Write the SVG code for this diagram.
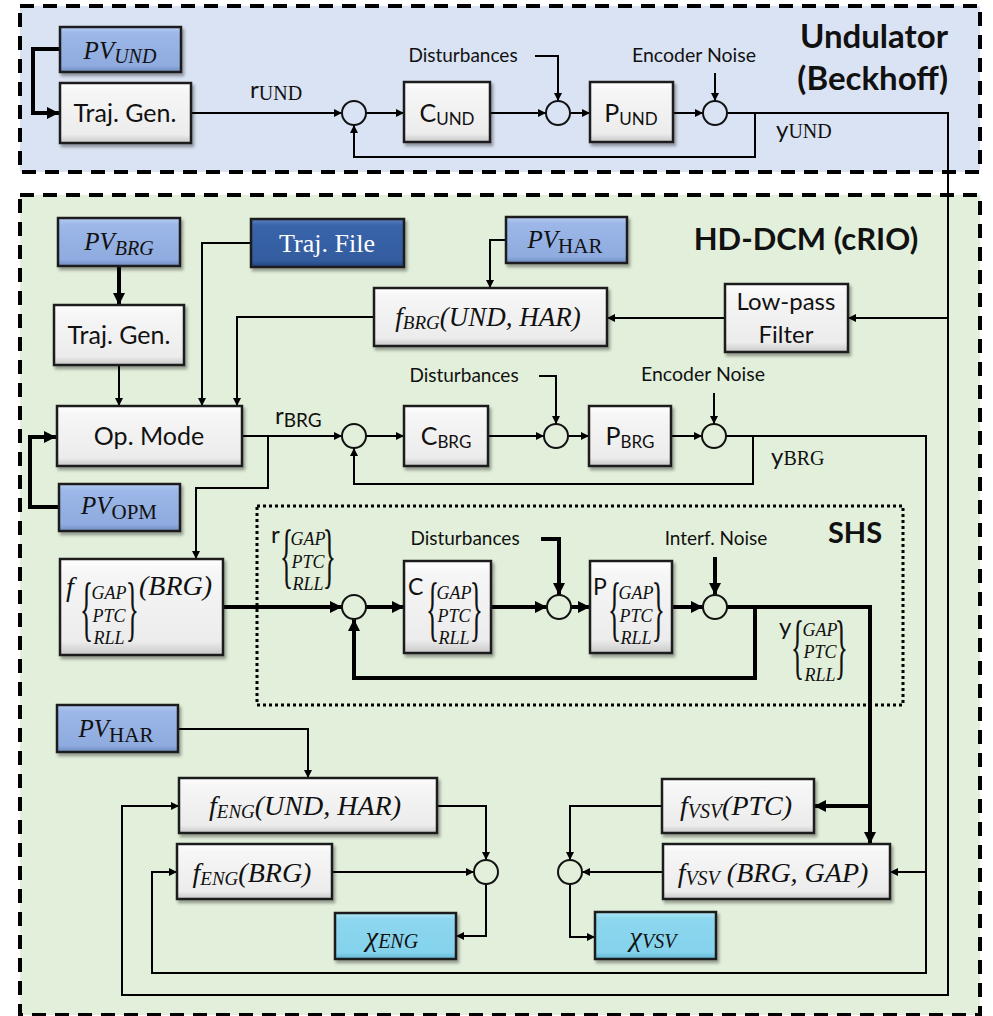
<svg xmlns="http://www.w3.org/2000/svg" width="993" height="1016" viewBox="0 0 993 1016">
<defs>
  <linearGradient id="gGrey" x1="0" y1="0" x2="0" y2="1">
    <stop offset="0" stop-color="#ffffff"/><stop offset="0.14" stop-color="#f6f6f6"/><stop offset="0.86" stop-color="#ececec"/><stop offset="1" stop-color="#c8c8c8"/>
  </linearGradient>
  <linearGradient id="gBlue" x1="0" y1="0" x2="0" y2="1">
    <stop offset="0" stop-color="#b7cdf3"/><stop offset="0.14" stop-color="#9cb7e8"/><stop offset="0.86" stop-color="#8fabdf"/><stop offset="1" stop-color="#6f8cc2"/>
  </linearGradient>
  <linearGradient id="gDark" x1="0" y1="0" x2="0" y2="1">
    <stop offset="0" stop-color="#5a7fc0"/><stop offset="0.14" stop-color="#3a64aa"/><stop offset="0.86" stop-color="#335c9f"/><stop offset="1" stop-color="#22457f"/>
  </linearGradient>
  <linearGradient id="gCyan" x1="0" y1="0" x2="0" y2="1">
    <stop offset="0" stop-color="#b3e8f7"/><stop offset="0.14" stop-color="#8dd7ef"/><stop offset="0.86" stop-color="#84d2ec"/><stop offset="1" stop-color="#62b6d4"/>
  </linearGradient>
  <filter id="sh" x="-5%" y="-5%" width="120%" height="130%">
    <feDropShadow dx="2" dy="3" stdDeviation="1.5" flood-color="#000" flood-opacity="0.35"/>
  </filter>
  <marker id="a" viewBox="0 0 10 10" refX="10" refY="5" markerWidth="9" markerHeight="8" markerUnits="userSpaceOnUse" orient="auto">
    <path d="M0,0 L10,5 L0,10 z" fill="#000"/>
  </marker>
  <marker id="A" viewBox="0 0 10 10" refX="10" refY="5" markerWidth="13" markerHeight="12" markerUnits="userSpaceOnUse" orient="auto">
    <path d="M0,0 L10,5 L0,10 z" fill="#000"/>
  </marker>
</defs>
<style>
  .box{stroke:#1a1a1a;stroke-width:2.5;filter:url(#sh)}
  .grey{fill:url(#gGrey)}
  .blue{fill:url(#gBlue)}
  .dblue{fill:url(#gDark)}
  .cyan{fill:url(#gCyan)}
  .sum{fill:none;stroke:#111;stroke-width:2}
  .ln{fill:none;stroke:#000;stroke-width:2}
  .thk{fill:none;stroke:#000;stroke-width:4}
  .arr{marker-end:url(#a)}
  .Arr{marker-end:url(#A)}
  .s{font-family:Lato,"Liberation Sans",sans-serif;fill:#111}
  .m{font-family:"Liberation Serif",serif;font-style:italic;fill:#111}
  .u{font-family:"Liberation Serif",serif;font-style:normal}
  .b{font-family:Lato,"Liberation Sans",sans-serif;font-weight:bold;fill:#111}
  .stk{font-family:"Liberation Serif",serif;font-style:italic;font-size:18px;fill:#111;text-anchor:middle}
  .br{font-family:"Liberation Serif",serif;font-style:normal;fill:#111}
</style>

<g id="panels">
  <rect x="20" y="6" width="960" height="166" fill="#dae3f3" stroke="#000" stroke-width="4" stroke-dasharray="14 9"/>
  <rect x="20" y="195" width="960" height="820" fill="#e2efda" stroke="#000" stroke-width="4" stroke-dasharray="14 9"/>
  <rect id="shs" x="257" y="506" width="646" height="199" fill="none" stroke="#000" stroke-width="3" stroke-dasharray="3 3"/>
</g>

<g id="connectors">
  <path class="thk Arr" d="M60,49 H33 V113 H59"/>
  <path class="ln arr" d="M191,113 H342"/>
  <path class="ln arr" d="M366,113 H404"/>
  <path class="ln arr" d="M490,113 H546"/>
  <path class="ln arr" d="M535,56 H558 V101"/>
  <path class="ln arr" d="M570,113 H590"/>
  <path class="ln arr" d="M673,113 H703"/>
  <path class="ln arr" d="M715,73 V101"/>
  <path class="ln arr" d="M727,113 H948 V995 H122 V806 H179"/>
  <path class="ln arr" d="M948,318 H848"/>
  <path class="ln arr" d="M755,113 V157 H354 V125"/>
  <path class="thk Arr" d="M119,266 V305"/>
  <path class="ln arr" d="M119,365 V406"/>
  <path class="ln arr" d="M251,243 H202 V406"/>
  <path class="ln arr" d="M374,317 H237 V406"/>
  <path class="ln arr" d="M506,240 H490 V288"/>
  <path class="ln arr" d="M725,318 H607"/>
  <path class="thk Arr" d="M59,507 H30 V437 H56"/>
  <path class="ln arr" d="M242,436 H342"/>
  <path class="ln arr" d="M268,436 V488 H196 V559"/>
  <path class="ln arr" d="M366,436 H404"/>
  <path class="ln arr" d="M488,436 H544"/>
  <path class="ln arr" d="M539,376 H556 V424"/>
  <path class="ln arr" d="M568,436 H589"/>
  <path class="ln arr" d="M671,436 H702"/>
  <path class="ln arr" d="M714,393 V424"/>
  <path class="ln arr" d="M726,436 H926 V973 H152 V872 H177"/>
  <path class="ln arr" d="M926,872 H890"/>
  <path class="ln arr" d="M753,436 V484 H354 V448"/>
  <path class="thk Arr" d="M223,607 H342"/>
  <path class="thk Arr" d="M366,607 H404"/>
  <path class="thk Arr" d="M491,607 H547"/>
  <path class="thk Arr" d="M541,539 H559 V595"/>
  <path class="thk Arr" d="M571,607 H590"/>
  <path class="thk Arr" d="M672,607 H703"/>
  <path class="thk Arr" d="M715,557 V595"/>
  <path class="thk Arr" d="M727,607 H870 V844"/>
  <path class="thk Arr" d="M870,806 H814"/>
  <path class="thk Arr" d="M755,607 V678 H354 V619"/>
  <path class="ln arr" d="M178,729 H308 V778"/>
  <path class="ln arr" d="M437,806 H486 V860"/>
  <path class="ln arr" d="M332,872 H474"/>
  <path class="ln arr" d="M486,884 V936 H456"/>
  <path class="ln arr" d="M662,806 H570 V860"/>
  <path class="ln arr" d="M663,872 H582"/>
  <path class="ln arr" d="M570,884 V937 H595"/>
</g>

<g id="pv-und"><rect class="box blue" x="60" y="27" width="121" height="45"/>
  <text class="m" x="120" y="59" text-anchor="middle" font-size="25">PV<tspan font-size="20" dy="4">UND</tspan></text></g>
<g id="tg-und"><rect class="box grey" x="60" y="83" width="131" height="60"/>
  <text class="s" x="125" y="122" text-anchor="middle" font-size="25">Traj. Gen.</text></g>
<g id="sum-und1"><circle class="sum" cx="354" cy="113" r="12"/></g>
<g id="c-und"><rect class="box grey" x="404" y="82" width="86" height="60"/>
  <text class="s" x="447" y="122" text-anchor="middle" font-size="25">C<tspan font-size="17" dy="3">UND</tspan></text></g>
<g id="sum-und2"><circle class="sum" cx="558" cy="113" r="12"/></g>
<g id="p-und"><rect class="box grey" x="590" y="82" width="83" height="60"/>
  <text class="s" x="631" y="122" text-anchor="middle" font-size="25">P<tspan font-size="17" dy="3">UND</tspan></text></g>
<g id="sum-und3"><circle class="sum" cx="715" cy="113" r="12"/></g>

<g id="pv-brg"><rect class="box blue" x="58" y="218" width="122" height="48"/>
  <text class="m" x="119" y="250" text-anchor="middle" font-size="25">PV<tspan font-size="20" dy="5">BRG</tspan></text></g>
<g id="traj-file"><rect class="box dblue" x="251" y="219" width="153" height="48"/>
  <text x="327" y="252" text-anchor="middle" font-size="26" font-family="'Liberation Serif', serif" fill="#fff">Traj. File</text></g>
<g id="pv-har1"><rect class="box blue" x="506" y="217" width="121" height="46"/>
  <text class="m" x="565" y="248" text-anchor="middle" font-size="25">PV<tspan class="u" font-size="21" dy="5">HAR</tspan></text></g>
<g id="tg-brg"><rect class="box grey" x="54" y="305" width="130" height="60"/>
  <text class="s" x="119" y="344" text-anchor="middle" font-size="25">Traj. Gen.</text></g>
<g id="f-brg"><rect class="box grey" x="374" y="288" width="233" height="58"/>
  <text class="m" x="488" y="326" text-anchor="middle" font-size="27">f<tspan font-size="19" dy="3">BRG</tspan><tspan dy="-3">(UND, HAR)</tspan></text></g>
<g id="lpf"><rect class="box grey" x="725" y="284" width="123" height="68"/>
  <text class="s" x="786" y="310" text-anchor="middle" font-size="24">Low-pass</text>
  <text class="s" x="786" y="343" text-anchor="middle" font-size="24">Filter</text></g>
<g id="op-mode"><rect class="box grey" x="57" y="406" width="185" height="60"/>
  <text class="s" x="149" y="445" text-anchor="middle" font-size="25">Op. Mode</text></g>
<g id="pv-opm"><rect class="box blue" x="59" y="484" width="121" height="47"/>
  <text class="m" x="119" y="514" text-anchor="middle" font-size="25">PV<tspan class="u" font-size="21" dy="5">OPM</tspan></text></g>
<g id="sum-brg1"><circle class="sum" cx="354" cy="436" r="12"/></g>
<g id="c-brg"><rect class="box grey" x="404" y="406" width="84" height="60"/>
  <text class="s" x="446" y="445" text-anchor="middle" font-size="25">C<tspan font-size="17" dy="3">BRG</tspan></text></g>
<g id="sum-brg2"><circle class="sum" cx="556" cy="436" r="12"/></g>
<g id="p-brg"><rect class="box grey" x="589" y="406" width="82" height="60"/>
  <text class="s" x="630" y="445" text-anchor="middle" font-size="25">P<tspan font-size="17" dy="3">BRG</tspan></text></g>
<g id="sum-brg3"><circle class="sum" cx="714" cy="436" r="12"/></g>

<g id="f-shs"><rect class="box grey" x="60" y="559" width="163" height="96"/>
  <text class="m" x="66" y="596" font-size="28">f</text>
  <text class="br" transform="translate(80,632) scale(0.38,1)" font-size="72">{</text>
  <text class="stk" x="109" y="599">GAP</text><text class="stk" x="109" y="622">PTC</text><text class="stk" x="109" y="644">RLL</text>
  <text class="br" transform="translate(139,632) scale(0.38,1)" font-size="72" text-anchor="end">}</text>
  <text class="m" x="139" y="595" font-size="28">(BRG)</text></g>
<g id="sum-shs1"><circle class="sum" cx="354" cy="607" r="12"/></g>
<g id="c-shs"><rect class="box grey" x="404" y="561" width="87" height="92"/>
  <text class="s" x="408" y="595" font-size="23">C</text>
  <text class="br" transform="translate(426,632) scale(0.38,1)" font-size="72">{</text>
  <text class="stk" x="454" y="599">GAP</text><text class="stk" x="454" y="622">PTC</text><text class="stk" x="454" y="644">RLL</text>
  <text class="br" transform="translate(483,632) scale(0.38,1)" font-size="72" text-anchor="end">}</text></g>
<g id="sum-shs2"><circle class="sum" cx="559" cy="607" r="12"/></g>
<g id="p-shs"><rect class="box grey" x="590" y="561" width="82" height="92"/>
  <text class="s" x="593" y="595" font-size="23">P</text>
  <text class="br" transform="translate(608,632) scale(0.38,1)" font-size="72">{</text>
  <text class="stk" x="636" y="599">GAP</text><text class="stk" x="636" y="622">PTC</text><text class="stk" x="636" y="644">RLL</text>
  <text class="br" transform="translate(665,632) scale(0.38,1)" font-size="72" text-anchor="end">}</text></g>
<g id="sum-shs3"><circle class="sum" cx="715" cy="607" r="12"/></g>

<g id="pv-har2"><rect class="box blue" x="57" y="705" width="121" height="47"/>
  <text class="m" x="116" y="737" text-anchor="middle" font-size="25">PV<tspan class="u" font-size="21" dy="5">HAR</tspan></text></g>
<g id="f-eng-uh"><rect class="box grey" x="179" y="778" width="258" height="55"/>
  <text class="m" x="305" y="815" text-anchor="middle" font-size="28">f<tspan font-size="19" dy="3">ENG</tspan><tspan dy="-3">(UND, HAR)</tspan></text></g>
<g id="f-eng-brg"><rect class="box grey" x="177" y="844" width="155" height="55"/>
  <text class="m" x="252" y="882" text-anchor="middle" font-size="28">f<tspan font-size="19" dy="3">ENG</tspan><tspan dy="-3">(BRG)</tspan></text></g>
<g id="sum-eng"><circle class="sum" cx="486" cy="872" r="12"/></g>
<g id="chi-eng"><rect class="box cyan" x="335" y="913" width="121" height="46"/>
  <text class="m" x="392" y="946" text-anchor="middle" font-size="28">χ<tspan font-size="20" dy="2">ENG</tspan></text></g>
<g id="f-vsv-ptc"><rect class="box grey" x="662" y="779" width="152" height="54"/>
  <text class="m" x="736" y="815" text-anchor="middle" font-size="28">f<tspan font-size="20" dy="3">VSV</tspan><tspan dy="-3">(PTC)</tspan></text></g>
<g id="f-vsv-bg"><rect class="box grey" x="663" y="844" width="227" height="55"/>
  <text class="m" x="773" y="882" text-anchor="middle" font-size="28">f<tspan font-size="20" dy="3">VSV</tspan><tspan dy="-3"> (BRG, GAP)</tspan></text></g>
<g id="sum-vsv"><circle class="sum" cx="570" cy="872" r="12"/></g>
<g id="chi-vsv"><rect class="box cyan" x="595" y="912" width="121" height="47"/>
  <text class="m" x="653" y="946" text-anchor="middle" font-size="28">χ<tspan font-size="20" dy="2">VSV</tspan></text></g>

<g id="labels">
  <text class="b" x="948" y="48" text-anchor="end" font-size="33">Undulator</text>
  <text class="b" x="948" y="90" text-anchor="end" font-size="33">(Beckhoff)</text>
  <text class="s" x="250" y="98" font-size="24">r<tspan class="u" font-size="20" dy="2">UND</tspan></text>
  <text class="s" x="463" y="62" text-anchor="middle" font-size="19">Disturbances</text>
  <text class="s" x="694" y="62" text-anchor="middle" font-size="19.5">Encoder Noise</text>
  <text class="s" x="776" y="138" font-size="24">y<tspan class="u" font-size="20">UND</tspan></text>

  <text class="b" x="806" y="250" text-anchor="middle" font-size="31">HD-DCM (cRIO)</text>
  <text class="s" x="275" y="424" font-size="24">r<tspan font-size="19" dy="3">BRG</tspan></text>
  <text class="s" x="464" y="382" text-anchor="middle" font-size="19">Disturbances</text>
  <text class="s" x="703" y="381" text-anchor="middle" font-size="19.5">Encoder Noise</text>
  <text class="s" x="771" y="465" font-size="24">y<tspan class="u" font-size="20">BRG</tspan></text>

  <text class="b" x="855" y="543" text-anchor="middle" font-size="29">SHS</text>
  <text class="s" x="465" y="545" text-anchor="middle" font-size="19">Disturbances</text>
  <text class="s" x="716" y="545" text-anchor="middle" font-size="19">Interf. Noise</text>
  <text class="s" x="271" y="543" font-size="24">r</text>
  <text class="br" transform="translate(280,579) scale(0.38,1)" font-size="72">{</text>
  <text class="stk" x="308" y="545">GAP</text><text class="stk" x="308" y="568">PTC</text><text class="stk" x="308" y="590">RLL</text>
  <text class="br" transform="translate(336,579) scale(0.38,1)" font-size="72" text-anchor="end">}</text>
  <text class="s" x="779" y="635" font-size="24">y</text>
  <text class="br" transform="translate(791,670) scale(0.38,1)" font-size="72">{</text>
  <text class="stk" x="820" y="636">GAP</text><text class="stk" x="820" y="658">PTC</text><text class="stk" x="820" y="681">RLL</text>
  <text class="br" transform="translate(848,670) scale(0.38,1)" font-size="72" text-anchor="end">}</text>
</g>
</svg>
